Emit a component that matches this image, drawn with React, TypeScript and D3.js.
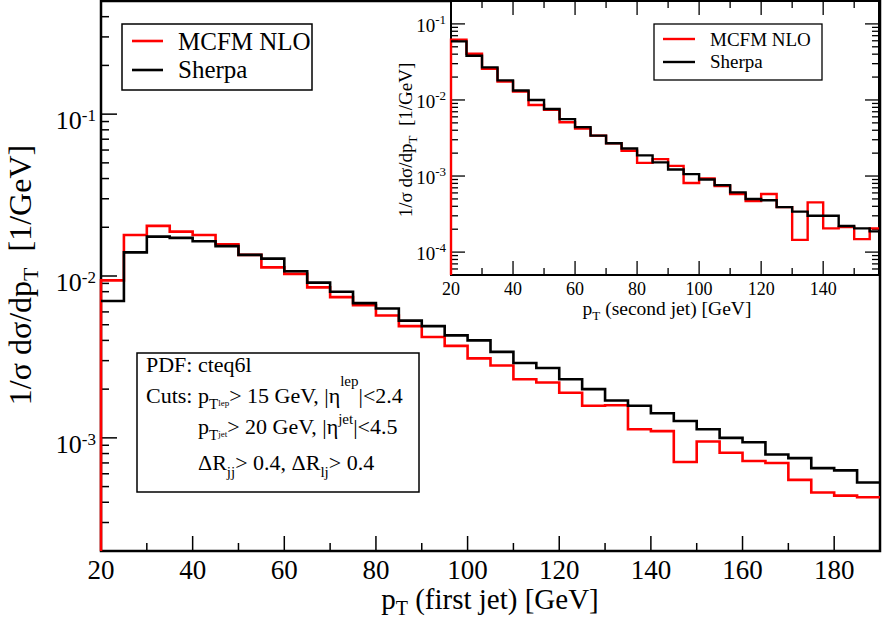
import React from 'react';
import * as d3 from 'd3';

// leading jet: lower bin edges in GeV, last edge closes the histogram
const firstJetBins = [20, 25, 30, 35, 40, 45, 50, 55, 60, 65, 70, 75, 80, 85, 90, 95, 100, 105, 110, 115,
  120, 125, 130, 135, 140, 145, 150, 155, 160, 165, 170, 175, 180, 185];
const firstJetEnd = 190;
const mcfmFirst = [0.0094, 0.0179, 0.0204, 0.0188, 0.0179, 0.0157, 0.0135, 0.0113, 0.0103, 0.0085,
  0.0074, 0.0066, 0.0057, 0.0049, 0.0042, 0.0037, 0.0031, 0.0028, 0.0023, 0.0022,
  0.0019, 0.00158, 0.00159, 0.00113, 0.0011, 0.00071, 0.00095, 0.00081, 0.00072, 0.0007,
  0.00055, 0.00046, 0.00044, 0.00043];
const sherpaFirst = [0.007, 0.014, 0.0175, 0.0172, 0.0164, 0.0153, 0.0135, 0.0128, 0.0107, 0.0091,
  0.008, 0.0068, 0.0063, 0.0053, 0.0049, 0.0043, 0.004, 0.0034, 0.0029, 0.0027,
  0.0023, 0.002, 0.0017, 0.00158, 0.00142, 0.00127, 0.00113, 0.001, 0.00094, 0.00079,
  0.00075, 0.00065, 0.00063, 0.00053];

// second jet (inset)
const secondJetBins = [20, 25, 30, 35, 40, 45, 50, 55, 60, 65, 70, 75, 80, 85, 90, 95, 100, 105, 110, 115,
  120, 125, 130, 135, 140, 145, 150, 155];
const secondJetEnd = 158;
const mcfmSecond = [0.0621, 0.0406, 0.0257, 0.0175, 0.0129, 0.0086, 0.0074, 0.0051, 0.0042, 0.0034,
  0.0027, 0.00215, 0.00149, 0.00167, 0.00136, 0.00081, 0.00093, 0.00074, 0.00058, 0.00047,
  0.00058, 0.00039, 0.000145, 0.00045, 0.000205, 0.000214, 0.000148, 0.000205];
const sherpaSecond = [0.059, 0.0382, 0.0268, 0.0181, 0.0133, 0.01, 0.0076, 0.0056, 0.0044, 0.0034,
  0.0027, 0.0023, 0.00187, 0.00151, 0.00122, 0.00106, 0.0009, 0.00076, 0.00061, 0.0005,
  0.00048, 0.00039, 0.00034, 0.0003, 0.0003, 0.00022, 0.000205, 0.000187];

const firstXLabels = [20, 40, 60, 80, 100, 120, 140, 160, 180];
const firstYExponents = [-3, -2, -1];
const secondXLabels = [20, 40, 60, 80, 100, 120, 140];
const secondYExponents = [-4, -3, -2, -1];

const serif = '"Liberation Serif", "Times New Roman", serif';

const isDecade = (v: number) => Math.abs(Math.log10(v) - Math.round(Math.log10(v))) < 1e-6;

function stepPath(bins: number[], end: number, vals: number[], x: any, y: any, fromBase: boolean) {
  const pts: [number, number][] = bins.map((b, i) => [b, vals[i]]);
  pts.push([end, vals[vals.length - 1]]);
  if (fromBase) pts.unshift([bins[0], y.domain()[0]]);
  return d3.line<[number, number]>()
    .x(d => x(d[0]))
    .y(d => y(d[1]))
    .curve(d3.curveStepAfter)(pts) || '';
}

export default function App() {
  // main panel
  const xMain = d3.scaleLinear().domain([20, 190]).range([101, 880]);
  const yMain = d3.scaleLog().domain([2e-4, 0.5]).range([551, 1]);
  // inset panel
  const xIn = d3.scaleLinear().domain([20, 158]).range([451, 879]);
  const yIn = d3.scaleLog().domain([5e-5, 0.2]).range([275, 1]);

  const mainYTicks = yMain.ticks();
  const mainXTicks = xMain.ticks(17).filter(v => v < 190);
  const inYTicks = yIn.ticks();
  const inXTicks = xIn.ticks(14);

  return (
    <svg width={882} height={621} style={{ position: 'absolute', left: 0, top: 0, background: '#fff' }}
      fontFamily={serif}>
      <rect x={0} y={0} width={882} height={621} fill="#fff" />

      {/* ---- main panel ---- */}
      <rect x={101} y={1} width={779} height={550} fill="none" stroke="#000" strokeWidth={2.5} />
      {mainYTicks.map((v, i) => (
        <line key={'my' + i} x1={101} x2={101 + (isDecade(v) ? 16 : 8)} y1={yMain(v)} y2={yMain(v)}
          stroke="#000" strokeWidth={1.5} />
      ))}
      {mainXTicks.map((v, i) => (
        <line key={'mx' + i} x1={xMain(v)} x2={xMain(v)} y1={551} y2={551 - (v % 20 === 0 ? 15 : 8)}
          stroke="#000" strokeWidth={1.5} />
      ))}
      {firstXLabels.map(v => (
        <text key={'mxl' + v} x={xMain(v)} y={579} fontSize={27} textAnchor="middle">{v}</text>
      ))}
      {firstYExponents.map(k => (
        <text key={'myl' + k} x={96} y={yMain(Math.pow(10, k)) + 15} fontSize={26} textAnchor="end">
          10<tspan fontSize={17} dy={-8}>{'-' + Math.abs(k)}</tspan>
        </text>
      ))}
      <text x={490} y={609} fontSize={29} textAnchor="middle">
        p<tspan fontSize={20} dy={6}>T</tspan><tspan dy={-6}> (first jet) [GeV]</tspan>
      </text>
      <text transform="translate(31,275) rotate(-90)" fontSize={32} textAnchor="middle">
        1/σ dσ/dp<tspan fontSize={22} dy={7}>T</tspan><tspan dy={-7}>{'\u00a0\u00a0[1/GeV]'}</tspan>
      </text>

      <path d={stepPath(firstJetBins, firstJetEnd, mcfmFirst, xMain, yMain, true)} fill="none"
        stroke="#ff0000" strokeWidth={2.6} />
      <path d={stepPath(firstJetBins, firstJetEnd, sherpaFirst, xMain, yMain, false)} fill="none"
        stroke="#000" strokeWidth={2.6} />

      {/* legend */}
      <rect x={122} y={24} width={190} height={66} fill="#fff" stroke="#000" strokeWidth={1.5} />
      <line x1={132} x2={163} y1={41} y2={41} stroke="#ff0000" strokeWidth={2.6} />
      <text x={178} y={50} fontSize={25}>MCFM NLO</text>
      <line x1={132} x2={163} y1={70} y2={70} stroke="#000" strokeWidth={2.6} />
      <text x={178} y={78} fontSize={25}>Sherpa</text>

      {/* cuts box */}
      <rect x={137} y={353} width={282} height={139} fill="#fff" stroke="#000" strokeWidth={1.5} />
      <text x={146} y={372} fontSize={22}>PDF: cteq6l</text>
      <text x={146} y={403} fontSize={22}>Cuts:</text>
      <text x={198} y={403} fontSize={22}>
        p<tspan fontSize={15} dy={6}>T</tspan><tspan fontSize={9} dy={-3}>lep</tspan>
        <tspan dy={-3}>{'> 15 GeV, |η'}</tspan><tspan fontSize={15} dy={-17}>lep</tspan>
        <tspan dy={17}>{'|<2.4'}</tspan>
      </text>
      <text x={198} y={434} fontSize={22}>
        p<tspan fontSize={15} dy={6}>T</tspan><tspan fontSize={9} dy={-3}>jet</tspan>
        <tspan dy={-3}>{'> 20 GeV, |η'}</tspan><tspan fontSize={15} dy={-10}>jet</tspan>
        <tspan dy={10}>{'|<4.5'}</tspan>
      </text>
      <text x={198} y={470} fontSize={22}>
        ΔR<tspan fontSize={15} dy={7}>jj</tspan><tspan dy={-7}>{'> 0.4, ΔR'}</tspan>
        <tspan fontSize={15} dy={7}>lj</tspan><tspan dy={-7}>{'> 0.4'}</tspan>
      </text>

      {/* ---- inset panel ---- */}
      <rect x={451} y={1} width={428} height={274} fill="#fff" stroke="#000" strokeWidth={2} />
      {inYTicks.map((v, i) => {
        const len = isDecade(v) ? 14 : 7;
        return (
          <g key={'iy' + i}>
            <line x1={451} x2={451 + len} y1={yIn(v)} y2={yIn(v)} stroke="#000" strokeWidth={1.3} />
            <line x1={879 - len} x2={879} y1={yIn(v)} y2={yIn(v)} stroke="#000" strokeWidth={1.3} />
          </g>
        );
      })}
      {inXTicks.map((v, i) => {
        const len = v % 20 === 0 ? 14 : 7;
        return (
          <g key={'ix' + i}>
            <line x1={xIn(v)} x2={xIn(v)} y1={275} y2={275 - len} stroke="#000" strokeWidth={1.3} />
            <line x1={xIn(v)} x2={xIn(v)} y1={1} y2={1 + len} stroke="#000" strokeWidth={1.3} />
          </g>
        );
      })}
      {secondXLabels.map(v => (
        <text key={'ixl' + v} x={xIn(v)} y={295} fontSize={18} textAnchor="middle">{v}</text>
      ))}
      {secondYExponents.map(k => (
        <text key={'iyl' + k} x={446} y={yIn(Math.pow(10, k)) + 8} fontSize={19} textAnchor="end">
          10<tspan fontSize={13} dy={-8}>{'-' + Math.abs(k)}</tspan>
        </text>
      ))}
      <text x={667} y={315} fontSize={19.5} textAnchor="middle">
        p<tspan fontSize={13} dy={5}>T</tspan><tspan dy={-5}> (second jet) [GeV]</tspan>
      </text>
      <text transform="translate(412,140) rotate(-90)" fontSize={19} textAnchor="middle">
        1/σ dσ/dp<tspan fontSize={13} dy={5}>T</tspan><tspan dy={-5}>{'\u00a0\u00a0[1/GeV]'}</tspan>
      </text>

      <path d={stepPath(secondJetBins, secondJetEnd, mcfmSecond, xIn, yIn, true)} fill="none"
        stroke="#ff0000" strokeWidth={2.4} />
      <path d={stepPath(secondJetBins, secondJetEnd, sherpaSecond, xIn, yIn, false)} fill="none"
        stroke="#000" strokeWidth={2.4} />

      <rect x={654} y={24} width={168} height={56} fill="#fff" stroke="#000" strokeWidth={1.3} />
      <line x1={663} x2={695} y1={39} y2={39} stroke="#ff0000" strokeWidth={2.4} />
      <text x={710} y={46} fontSize={19}>MCFM NLO</text>
      <line x1={663} x2={695} y1={62} y2={62} stroke="#000" strokeWidth={2.4} />
      <text x={710} y={68} fontSize={19}>Sherpa</text>
    </svg>
  );
}
